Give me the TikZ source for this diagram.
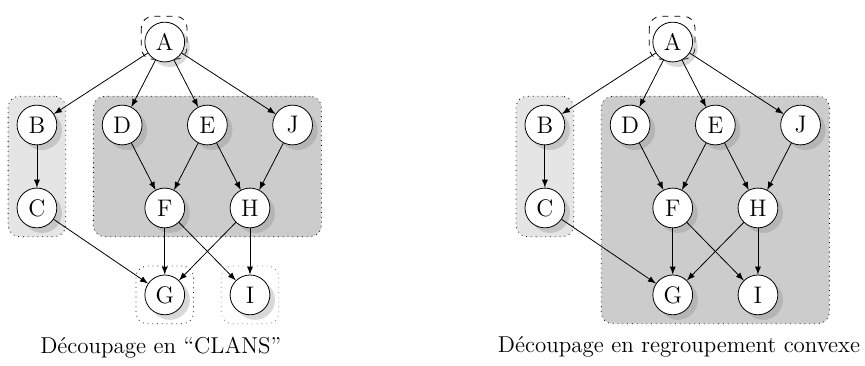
\documentclass[tikz,border=0pt]{standalone}
\usepackage{tikz}
\usetikzlibrary{positioning, math, fit, shadows, backgrounds}
\tikzset{
vertex/.style={draw, circle, fill=white, minimum size=0.7cm, inner sep=0pt, font=\large,
  drop shadow={opacity=0.3, shadow xshift=0.09cm, shadow yshift=-0.09cm}},
clan/.style={draw, dotted, rounded corners=0.2cm, inner sep=0.15cm},
lightclan/.style={clan, fill=black!10},
darkclan/.style={clan, fill=black!20},
rootbox/.style={draw, dashed, rounded corners=0.2cm},
caption/.style={font=\fontsize{11.5}{14}\selectfont},
}

\begin{document}
\begin{tikzpicture}[>=latex]
    \tikzmath{ \dx=8.94; };  % shift between left and right graph
    \useasboundingbox (0,0) rectangle (15.224,-6.424);

    %left graph
    \node[vertex] (a1) at (2.90,-0.74) {A};
    \node[vertex] (b1) at (0.65,-2.20) {B};
    \node[vertex] (d1) at (2.15,-2.20) {D};
    \node[vertex] (e1) at (3.65,-2.20) {E};
    \node[vertex] (j1) at (5.15,-2.20) {J};
    \node[vertex] (c1) at (0.65,-3.66) {C};
    \node[vertex] (f1) at (2.90,-3.66) {F};
    \node[vertex] (h1) at (4.40,-3.66) {H};
    \node[vertex] (g1) at (2.90,-5.19) {G};
    \node[vertex] (i1) at (4.40,-5.19) {I};

    %right graph
    \node[vertex] (a2) at (2.90+\dx,-0.74) {A};
    \node[vertex] (b2) at (0.65+\dx,-2.20) {B};
    \node[vertex] (d2) at (2.15+\dx,-2.20) {D};
    \node[vertex] (e2) at (3.65+\dx,-2.20) {E};
    \node[vertex] (j2) at (5.15+\dx,-2.20) {J};
    \node[vertex] (c2) at (0.65+\dx,-3.66) {C};
    \node[vertex] (f2) at (2.90+\dx,-3.66) {F};
    \node[vertex] (h2) at (4.40+\dx,-3.66) {H};
    \node[vertex] (g2) at (2.90+\dx,-5.19) {G};
    \node[vertex] (i2) at (4.40+\dx,-5.19) {I};

    %edges left
    \draw[->] (a1)--(b1);
    \draw[->] (a1)--(d1);
    \draw[->] (a1)--(e1);
    \draw[->] (a1)--(j1);
    \draw[->] (b1)--(c1);
    \draw[->] (d1)--(f1);
    \draw[->] (e1)--(f1);
    \draw[->] (e1)--(h1);
    \draw[->] (j1)--(h1);
    \draw[->] (c1)--(g1);
    \draw[->] (f1)--(g1);
    \draw[->] (f1)--(i1);
    \draw[->] (h1)--(g1);
    \draw[->] (h1)--(i1);

    %edges right
    \draw[->] (a2)--(b2);
    \draw[->] (a2)--(d2);
    \draw[->] (a2)--(e2);
    \draw[->] (a2)--(j2);
    \draw[->] (b2)--(c2);
    \draw[->] (d2)--(f2);
    \draw[->] (e2)--(f2);
    \draw[->] (e2)--(h2);
    \draw[->] (j2)--(h2);
    \draw[->] (c2)--(g2);
    \draw[->] (f2)--(g2);
    \draw[->] (f2)--(i2);
    \draw[->] (h2)--(g2);
    \draw[->] (h2)--(i2);

    % clans
    \begin{scope}[on background layer]
        \node[lightclan, fit=(b1)(c1)] (bc1) {};
        \node[darkclan, fit=(d1)(j1)(f1)(h1)] (dh1) {};
        \node[clan, fit=(g1)] (gbox1) {};
        \node[clan, draw=gray, fit=(i1)] (ibox1) {};
        \draw[rootbox] ([shift={(-0.16,0.2)}]a1.north west) rectangle ([shift={(0.14,-0.05)}]a1.south east);

        \node[lightclan, fit=(b2)(c2)] (bc2) {};
        \node[darkclan, fit=(d2)(j2)(g2)(i2)] (dg2) {};
        \draw[rootbox] ([shift={(-0.16,0.2)}]a2.north west) rectangle ([shift={(0.14,-0.05)}]a2.south east);
    \end{scope}

    % captions
    \node[caption] (cap1) at (2.83,-6.11) {Découpage en “CLANS”};
    \node[caption] (cap2) at (11.95,-6.11) {Découpage en regroupement convexe};
\end{tikzpicture}
\end{document}
